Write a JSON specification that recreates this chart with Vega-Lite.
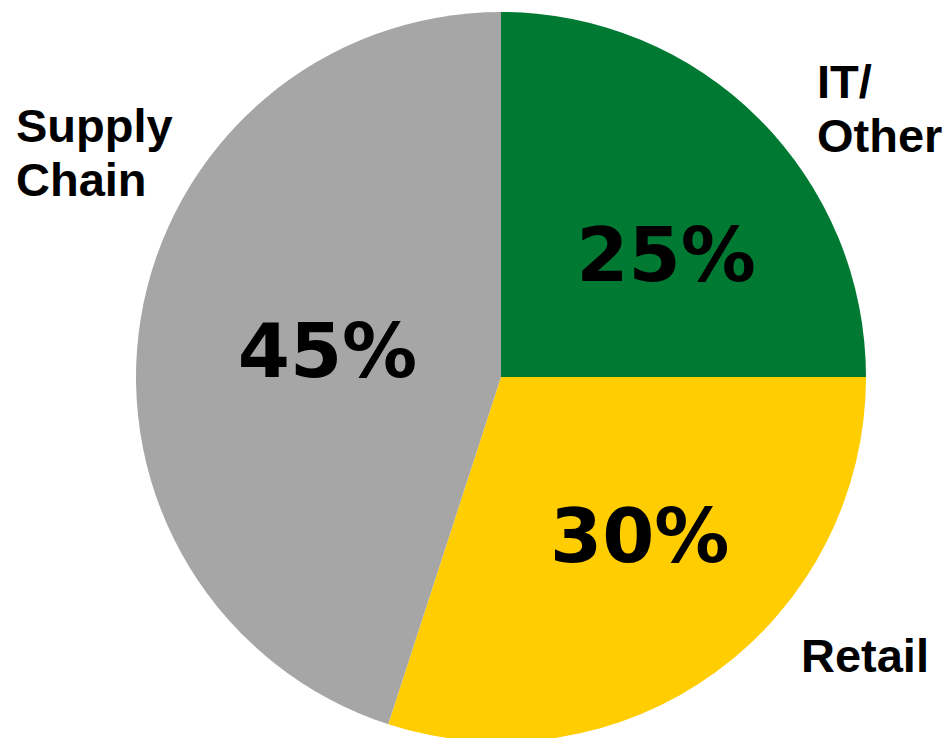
{
  "$schema": "https://vega.github.io/schema/vega-lite/v6.json",
  "width": 730,
  "height": 722,
  "autosize": {"type": "none"},
  "padding": {"left": 136, "top": 16, "right": 84, "bottom": 0},
  "background": "white",
  "config": {"view": {"stroke": null}},
  "data": {
    "values": [
      {"cat": "IT/Other", "label": "IT/\nOther", "share": 25, "pct": "25%"},
      {"cat": "Retail", "label": "Retail", "share": 30, "pct": "30%"},
      {"cat": "Supply Chain", "label": "Supply\nChain", "share": 45, "pct": "45%"}
    ]
  },
  "encoding": {
    "theta": {"field": "share", "type": "quantitative", "stack": true},
    "order": {"field": "cat", "type": "ordinal", "sort": "ascending"}
  },
  "layer": [
    {
      "mark": {"type": "arc", "outerRadius": 365, "stroke": null},
      "encoding": {
        "color": {
          "field": "cat",
          "type": "nominal",
          "scale": {"domain": ["IT/Other", "Retail", "Supply Chain"], "range": ["#007A33", "#FFCD00", "#A6A6A6"]},
          "legend": null
        }
      }
    },
    {
      "mark": {"type": "text", "radius": 191, "thetaOffset": 0.258, "fontSize": 75, "fontWeight": "bold", "font": "DejaVu Sans", "align": "center", "baseline": "alphabetic", "color": "black"},
      "encoding": {"text": {"condition": {"test": "datum.cat === 'IT/Other'", "field": "pct"}, "value": ""}}
    },
    {
      "mark": {"type": "text", "radius": 231, "thetaOffset": -0.016, "fontSize": 75, "fontWeight": "bold", "font": "DejaVu Sans", "align": "center", "baseline": "alphabetic", "color": "black"},
      "encoding": {"text": {"condition": {"test": "datum.cat === 'Retail'", "field": "pct"}, "value": ""}}
    },
    {
      "mark": {"type": "text", "radius": 173.5, "thetaOffset": -0.157, "fontSize": 75, "fontWeight": "bold", "font": "DejaVu Sans", "align": "center", "baseline": "alphabetic", "color": "black"},
      "encoding": {"text": {"condition": {"test": "datum.cat === 'Supply Chain'", "field": "pct"}, "value": ""}}
    },
    {
      "mark": {"type": "text", "radius": 421.5, "thetaOffset": 0.0621, "fontSize": 47, "fontWeight": "bold", "font": "Liberation Sans", "align": "left", "baseline": "alphabetic", "lineBreak": "\n", "lineHeight": 54, "color": "black"},
      "encoding": {"text": {"condition": {"test": "datum.cat === 'IT/Other'", "field": "label"}, "value": ""}}
    },
    {
      "mark": {"type": "text", "radius": 420.7, "thetaOffset": -0.1655, "fontSize": 47, "fontWeight": "bold", "font": "Liberation Sans", "align": "left", "baseline": "alphabetic", "lineBreak": "\n", "lineHeight": 54, "color": "black"},
      "encoding": {"text": {"condition": {"test": "datum.cat === 'Retail'", "field": "label"}, "value": ""}}
    },
    {
      "mark": {"type": "text", "radius": 538.9, "thetaOffset": 0.294, "fontSize": 47, "fontWeight": "bold", "font": "Liberation Sans", "align": "left", "baseline": "alphabetic", "lineBreak": "\n", "lineHeight": 54, "color": "black"},
      "encoding": {"text": {"condition": {"test": "datum.cat === 'Supply Chain'", "field": "label"}, "value": ""}}
    }
  ]
}
